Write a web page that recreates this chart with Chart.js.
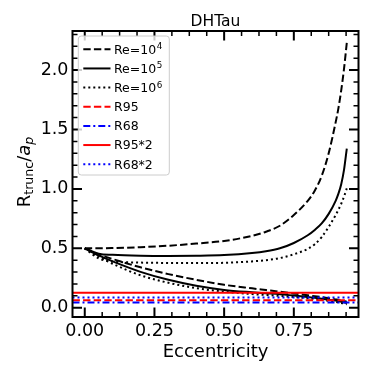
<!DOCTYPE html>
<html><head><meta charset="utf-8">
<script src="https://cdn.jsdelivr.net/npm/chart.js@4/dist/chart.umd.min.js"></script>
<style>html,body{margin:0;padding:0;background:#fff}</style>
</head><body>
<canvas id="c" width="374" height="374" style="width:374px;height:374px;display:block"></canvas>
<script>
// ---- data ----
const ecc       = [0,    0.05,  0.1,   0.2,   0.3,   0.4,   0.5,   0.6,   0.65,  0.7,   0.75,  0.8,   0.825, 0.85,  0.875, 0.9,   0.91,  0.92,  0.93,  0.94];
const re4Upper  = [0.50, 0.500, 0.502, 0.510, 0.522, 0.540, 0.562, 0.605, 0.640, 0.690, 0.780, 0.900, 0.985, 1.110, 1.300, 1.560, 1.680, 1.830, 2.010, 2.230];
const re4Lower  = [0.50, 0.450, 0.410, 0.340, 0.283, 0.235, 0.193, 0.163, 0.149, 0.135, 0.120, 0.105, 0.097, 0.089, 0.080, 0.070, 0.066, 0.061, 0.056, 0.050];
const re5Upper  = [0.50, 0.455, 0.445, 0.437, 0.435, 0.437, 0.443, 0.460, 0.475, 0.500, 0.545, 0.610, 0.655, 0.710, 0.790, 0.900, 0.960, 1.040, 1.160, 1.340];
const re5Lower  = [0.50, 0.440, 0.390, 0.302, 0.235, 0.185, 0.150, 0.130, 0.122, 0.114, 0.102, 0.090, 0.083, 0.075, 0.068, 0.060, 0.056, 0.051, 0.046, 0.040];
const re6Upper  = [0.50, 0.415, 0.390, 0.380, 0.377, 0.376, 0.378, 0.390, 0.400, 0.418, 0.450, 0.495, 0.535, 0.595, 0.680, 0.780, 0.825, 0.875, 0.935, 1.005];
const re6Lower  = [0.50, 0.430, 0.370, 0.273, 0.210, 0.165, 0.135, 0.115, 0.107, 0.100, 0.090, 0.080, 0.073, 0.066, 0.058, 0.050, 0.045, 0.040, 0.035, 0.030];
const r95 = 0.063, r68 = 0.044, r95x2 = 0.126, r68x2 = 0.087;
const xTicks = [0, 0.25, 0.5, 0.75];
const yTicks = [0, 0.5, 1.0, 1.5, 2.0];
const xMinorStep = 0.0625, yMinorStep = 0.1;
const xRange = [-0.044, 0.982];
const yRange = [-0.078, 2.329];
const titleText = 'DHTau';
const xLabel = 'Eccentricity';

const F = 'DejaVu Sans';
const pts = arr => ecc.map((e, i) => ({x: e, y: arr[i]}));
const hline = v => xRange.map(x => ({x, y: v}));
const DASH = [7.4, 3.2], DOT = [2, 3], DASHDOT = [7, 3, 2, 3];

const datasets = [
  {label: 'Re=10^4', data: pts(re4Upper), borderColor: '#000', borderDash: DASH},
  {label: '',        data: pts(re4Lower), borderColor: '#000', borderDash: DASH},
  {label: 'Re=10^5', data: pts(re5Upper), borderColor: '#000', borderDash: []},
  {label: '',        data: pts(re5Lower), borderColor: '#000', borderDash: []},
  {label: 'Re=10^6', data: pts(re6Upper), borderColor: '#000', borderDash: DOT},
  {label: '',        data: pts(re6Lower), borderColor: '#000', borderDash: DOT},
  {label: 'R95',     data: hline(r95),   borderColor: '#ff0000', borderDash: DASH},
  {label: 'R68',     data: hline(r68),   borderColor: '#0000ff', borderDash: DASHDOT},
  {label: 'R95*2',   data: hline(r95x2), borderColor: '#ff0000', borderDash: []},
  {label: 'R68*2',   data: hline(r68x2), borderColor: '#0000ff', borderDash: DOT},
].map((d, i) => Object.assign({
  borderWidth: 2, fill: false, pointRadius: 0, cubicInterpolationMode: 'monotone',
  borderCapStyle: 'butt', order: -i
}, d));

function drawSupText(ctx, txt, x, y, size) {
  const parts = txt.split('^');
  ctx.font = size + 'px "' + F + '"';
  ctx.fillText(parts[0], x, y);
  if (parts.length > 1) {
    const w = ctx.measureText(parts[0]).width;
    ctx.font = (size * 0.7) + 'px "' + F + '"';
    ctx.fillText(parts[1], x + w + 0.5, y - size * 0.36);
  }
}

const deco = {
  id: 'deco',
  afterDatasetsDraw(chart) {
    const {ctx, chartArea: a, scales: {x, y}} = chart;
    ctx.save();
    ctx.strokeStyle = '#000';
    ctx.setLineDash([]);
    const vt = (px, len, w) => {
      ctx.lineWidth = w; ctx.beginPath();
      ctx.moveTo(px, a.bottom); ctx.lineTo(px, a.bottom - len);
      ctx.moveTo(px, a.top); ctx.lineTo(px, a.top + len); ctx.stroke();
    };
    const ht = (py, len, w) => {
      ctx.lineWidth = w; ctx.beginPath();
      ctx.moveTo(a.left, py); ctx.lineTo(a.left + len, py);
      ctx.moveTo(a.right, py); ctx.lineTo(a.right - len, py); ctx.stroke();
    };
    for (let k = Math.ceil(xRange[0] / xMinorStep); k * xMinorStep <= xRange[1]; k++) {
      const v = k * xMinorStep;
      if (xTicks.some(t => Math.abs(t - v) < 1e-9)) continue;
      vt(x.getPixelForValue(v), 5, 1.5);
    }
    xTicks.forEach(v => vt(x.getPixelForValue(v), 9.5, 2));
    for (let k = Math.ceil(yRange[0] / yMinorStep); k * yMinorStep <= yRange[1]; k++) {
      const v = k * yMinorStep;
      if (yTicks.some(t => Math.abs(t - v) < 1e-9)) continue;
      ht(y.getPixelForValue(v), 5, 1.5);
    }
    yTicks.forEach(v => ht(y.getPixelForValue(v), 9.5, 2));
    ctx.lineWidth = 2;
    ctx.strokeRect(a.left, a.top, a.right - a.left, a.bottom - a.top);

    // legend
    const lx = 78.3, ly = 36, lw = 91, lh = 139, r = 3;
    ctx.beginPath();
    ctx.moveTo(lx + r, ly); ctx.lineTo(lx + lw - r, ly); ctx.quadraticCurveTo(lx + lw, ly, lx + lw, ly + r);
    ctx.lineTo(lx + lw, ly + lh - r); ctx.quadraticCurveTo(lx + lw, ly + lh, lx + lw - r, ly + lh);
    ctx.lineTo(lx + r, ly + lh); ctx.quadraticCurveTo(lx, ly + lh, lx, ly + lh - r);
    ctx.lineTo(lx, ly + r); ctx.quadraticCurveTo(lx, ly, lx + r, ly);
    ctx.closePath();
    ctx.fillStyle = 'rgba(255,255,255,0.8)'; ctx.fill();
    ctx.lineWidth = 1; ctx.strokeStyle = '#cccccc'; ctx.stroke();
    const items = chart.data.datasets.filter(d => d.label);
    items.forEach((d, i) => {
      const cy = 49.3 + 19.15 * i;
      ctx.strokeStyle = d.borderColor; ctx.lineWidth = 2; ctx.lineCap = 'butt';
      ctx.setLineDash(d.borderDash || []);
      ctx.beginPath(); ctx.moveTo(83.3, cy); ctx.lineTo(110.5, cy); ctx.stroke();
      ctx.setLineDash([]);
      ctx.fillStyle = '#000'; ctx.textAlign = 'left'; ctx.textBaseline = 'alphabetic';
      drawSupText(ctx, d.label, 114, cy + 4.4, 12.5);
    });

    // title
    ctx.fillStyle = '#000'; ctx.textAlign = 'center'; ctx.textBaseline = 'alphabetic';
    ctx.font = '15.5px "' + F + '"';
    ctx.fillText(titleText, (a.left + a.right) / 2, 26);
    // x label
    ctx.font = '18px "' + F + '"';
    ctx.fillText(xLabel, (a.left + a.right) / 2, 357);
    // y label: R_trunc / a_p
    const segs = [
      {t: 'R', f: '18px "' + F + '"', dy: 0},
      {t: 'trunc', f: '12.6px "' + F + '"', dy: 3.6},
      {t: '/', f: '18px "' + F + '"', dy: 0},
      {t: 'a', f: 'italic 18px "' + F + '"', dy: 0},
      {t: 'p', f: 'italic 12.6px "' + F + '"', dy: 3.6},
    ];
    let total = 0;
    segs.forEach(s => { ctx.font = s.f; s.w = ctx.measureText(s.t).width; total += s.w; });
    ctx.translate(29.5, 172);
    ctx.rotate(-Math.PI / 2);
    ctx.textAlign = 'left';
    let cx = -total / 2;
    segs.forEach(s => { ctx.font = s.f; ctx.fillText(s.t, cx, s.dy); cx += s.w; });
    ctx.restore();
  }
};

new Chart(document.getElementById('c'), {
  type: 'line',
  data: {datasets},
  options: {
    responsive: false, animation: false, devicePixelRatio: 1,
    layout: {padding: {top: 31, right: 15.5, left: 0, bottom: 0}},
    plugins: {legend: {display: false}, title: {display: false}, tooltip: {enabled: false}},
    elements: {point: {radius: 0}},
    scales: {
      x: {
        type: 'linear', min: xRange[0], max: xRange[1],
        afterBuildTicks: s => { s.ticks = xTicks.map(v => ({value: v})); },
        afterFit: s => { s.height = 57; },
        grid: {display: false, drawTicks: false}, border: {display: false},
        ticks: {font: {family: F, size: 17.5}, color: '#000', padding: 4, maxRotation: 0, autoSkip: false,
                callback: v => Number(v).toFixed(2)}
      },
      y: {
        type: 'linear', min: yRange[0], max: yRange[1],
        afterBuildTicks: s => { s.ticks = yTicks.map(v => ({value: v})); },
        afterFit: s => { s.width = 72.5; },
        grid: {display: false, drawTicks: false}, border: {display: false},
        ticks: {font: {family: F, size: 17.5}, color: '#000', padding: 4, autoSkip: false,
                callback: v => Number(v).toFixed(1)}
      }
    }
  },
  plugins: [deco]
});
</script>
</body></html>
